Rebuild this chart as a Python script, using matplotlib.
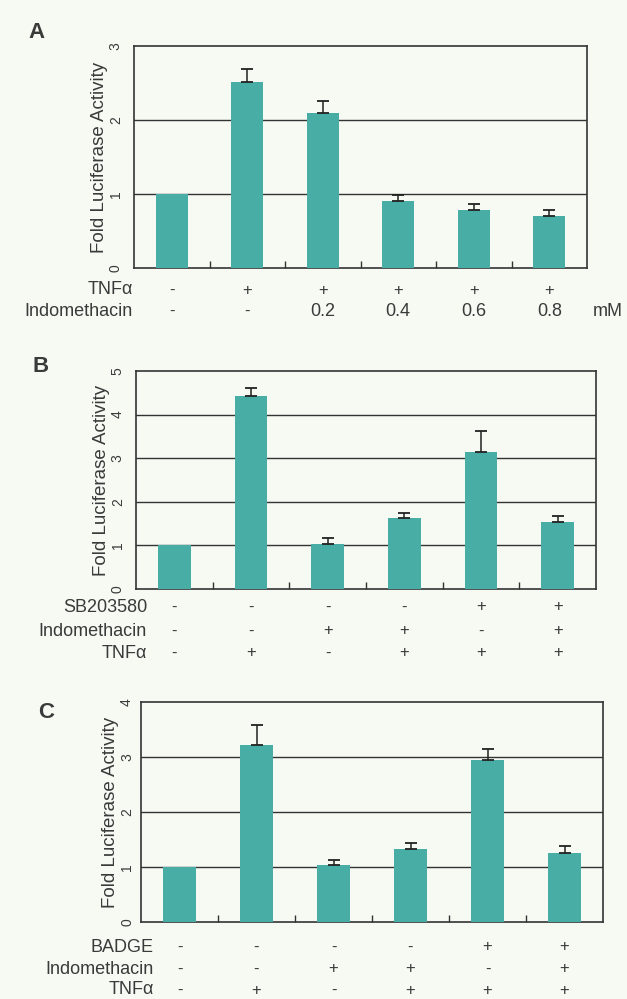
import matplotlib.pyplot as plt
from matplotlib.transforms import blended_transform_factory

plt.rcParams["font.family"] = ["Liberation Sans", "DejaVu Sans"]

# panel A
a_vals = [1.0, 2.51, 2.10, 0.90, 0.78, 0.70]
a_err = [0.0, 0.18, 0.16, 0.08, 0.09, 0.08]
a_rows = ["TNF\u03b1", "Indomethacin"]
a_marks = [["-", "+", "+", "+", "+", "+"],
           ["-", "-", "0.2", "0.4", "0.6", "0.8"]]

# panel B
b_vals = [1.0, 4.42, 1.03, 1.62, 3.14, 1.54]
b_err = [0.0, 0.18, 0.15, 0.12, 0.48, 0.14]
b_rows = ["SB203580", "Indomethacin", "TNF\u03b1"]
b_marks = [["-", "-", "-", "-", "+", "+"],
           ["-", "-", "+", "+", "-", "+"],
           ["-", "+", "-", "+", "+", "+"]]

# panel C
c_vals = [1.0, 3.21, 1.03, 1.33, 2.94, 1.26]
c_err = [0.0, 0.38, 0.09, 0.10, 0.21, 0.12]
c_rows = ["BADGE", "Indomethacin", "TNF\u03b1"]
c_marks = [["-", "-", "-", "-", "+", "+"],
           ["-", "-", "+", "+", "-", "+"],
           ["-", "+", "-", "+", "+", "+"]]

bg = "#f7f9f3"
teal = "#48ada5"
ink = "#3a3a3a"

fig = plt.figure(figsize=(6.27, 9.99), dpi=100, facecolor=bg)


def panel(rect, vals, err, ymax, letter, letter_xy, rows, marks, row_y, label_x, ylab_pad, tick_pad):
    ax = fig.add_axes(rect)
    ax.set_facecolor(bg)
    x = list(range(len(vals)))
    ax.bar(x, vals, width=0.43, color=teal, zorder=3)
    ax.errorbar(x[1:], vals[1:], yerr=[[0] * (len(vals) - 1), err[1:]], fmt="none",
                ecolor="#222222", elinewidth=1.1, capsize=4, capthick=1.3, zorder=4)
    ax.set_xlim(-0.5, len(vals) - 0.5)
    ax.set_ylim(0, ymax)
    for lvl in range(1, ymax):
        ax.axhline(lvl, color="#333333", lw=1.0, zorder=1)
    ax.set_yticks(range(ymax + 1))
    ax.tick_params(axis="y", length=0, pad=tick_pad, labelsize=10, labelcolor=ink, labelrotation=90)
    for t in ax.get_yticklabels():
        t.set_va("center")
    ax.set_xticks([i + 0.5 for i in range(len(vals) - 1)])
    ax.set_xticklabels([])
    ax.tick_params(axis="x", direction="in", length=5, width=1, color="#333333")
    for s in ax.spines.values():
        s.set_color("#333333")
        s.set_linewidth(1.2)
    ax.set_ylabel("Fold Luciferase Activity", fontsize=13.5, color=ink, labelpad=ylab_pad)
    fig.text(letter_xy[0], letter_xy[1], letter, fontsize=16, fontweight="bold",
             color=ink, ha="left", va="center")
    tr = blended_transform_factory(ax.transData, fig.transFigure)
    for name, row, yy in zip(rows, marks, row_y):
        fig.text(label_x, yy, name, fontsize=13, color=ink, ha="right", va="center")
        for xi, m in zip(x, row):
            ax.text(xi, yy, m, transform=tr, fontsize=13 if m[0].isdigit() else 12,
                    color=ink, ha="center", va="center", clip_on=False)
    return ax


H = 999.0
W = 627.0

axA = panel([134 / W, 1 - 268 / H, 453 / W, 222 / H], a_vals, a_err, 3, "A",
            (28 / W, 1 - 33 / H), a_rows, a_marks,
            [1 - 290 / H, 1 - 311 / H], 133 / W, 1, 8)
fig.text(608 / W, 1 - 311 / H, "mM", fontsize=13, color=ink, ha="center", va="center")

axB = panel([136 / W, 1 - 589 / H, 460 / W, 218 / H], b_vals, b_err, 5, "B",
            (33 / W, 1 - 366 / H), b_rows, b_marks,
            [1 - 607 / H, 1 - 631 / H, 1 - 653 / H], 147 / W, 1, 8)

axC = panel([141 / W, 1 - 922 / H, 462 / W, 220 / H], c_vals, c_err, 4, "C",
            (38 / W, 1 - 712 / H), c_rows, c_marks,
            [1 - 947 / H, 1 - 969 / H, 1 - 990 / H], 154 / W, 1, 5)

fig.savefig("out.png", dpi=100, facecolor=bg)
